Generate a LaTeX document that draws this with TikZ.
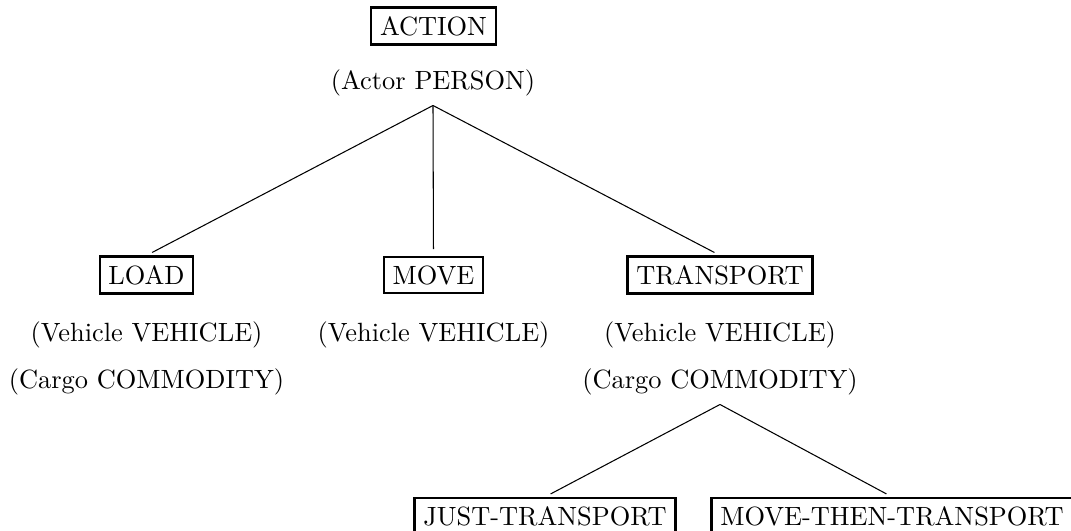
\documentclass[tikz,border=0pt]{standalone}
\usepackage{tikz}
\usetikzlibrary{positioning}

\begin{document}
\begin{tikzpicture}[
    x=0.01332cm, y=0.01332cm,
    concept/.style={
        draw,
        line width=0.8pt,
        inner sep=3.33pt
    },
    slot/.style={inner sep=3.33pt},
    link/.style={thin, shorten >=2.4pt}
]
\useasboundingbox (0,0) rectangle (1071,-531);

% Root
\node[concept] (action) at (433.5,-26) {ACTION};
\node[slot] (actor) at (433,-83) {(Actor PERSON)};

% Second level
\node[concept] (load) at (146.5,-275) {LOAD};
\node[slot] (loadveh) at (146.5,-334.5) {(Vehicle VEHICLE)};
\node[slot] (loadcargo) at (146.5,-382) {(Cargo COMMODITY)};

\node[concept] (move) at (433.5,-275) {MOVE};
\node[slot] (moveveh) at (433.5,-334.5) {(Vehicle VEHICLE)};

\node[concept] (transport) at (720,-275) {TRANSPORT};
\node[slot] (transveh) at (720,-334.5) {(Vehicle VEHICLE)};
\node[slot] (transcargo) at (720,-382) {(Cargo COMMODITY)};

% Third level
\node[concept] (just) at (545,-516.5) {JUST-TRANSPORT};
\node[concept] (movethen) at (892,-516.5) {MOVE-THEN-TRANSPORT};

% Connections
\draw[link] (actor.south) -- (load.north);
\draw[link] (actor.south) -- (move.north);
\draw[link] (actor.south) -- (transport.north);
\draw[link] (transcargo.south) -- (just.north);
\draw[link] (transcargo.south) -- (movethen.north);

\end{tikzpicture}
\end{document}
